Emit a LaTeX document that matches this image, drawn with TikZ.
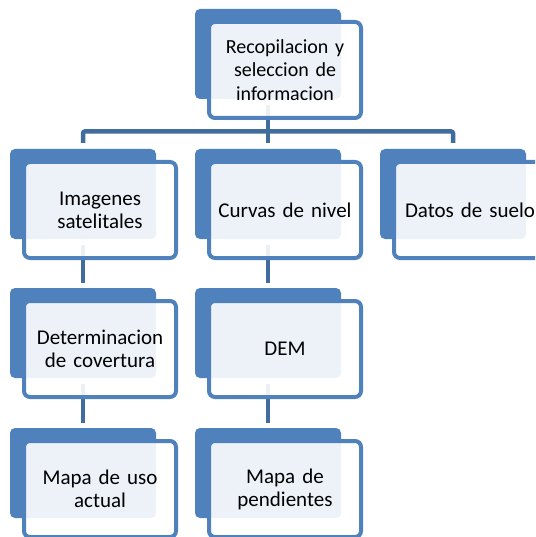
\documentclass[tikz,border=0pt]{standalone}
\usepackage{fontspec}
\setmainfont{Carlito}
\usetikzlibrary{calc}
\definecolor{boxblue}{RGB}{79,129,189}
\definecolor{linkblue}{RGB}{64,108,158}

\begin{document}
\begin{tikzpicture}[x=1pt, y=-1pt,
  back/.style={fill=boxblue, rounded corners=5pt, minimum width=146pt, minimum height=90pt, inner sep=0pt},
  front/.style={draw=boxblue, line width=4pt, fill=white, fill opacity=0.9, text opacity=1, rounded corners=6pt, minimum width=152pt, minimum height=96pt, inner sep=0pt, text width=150pt, align=center, font=\fontsize{21}{23}\selectfont},
  link/.style={draw=linkblue, line width=4.5pt}]
\path[use as bounding box] (0,0) rectangle (535,537);
\clip (0,0) rectangle (535,537);
\node[back] (recb) at (268,54) {};
\node[back] (imgb) at (83,194) {};
\node[back] (curb) at (268,194) {};
\node[back] (datb) at (453,194) {};
\node[back] (detb) at (83,333) {};
\node[back] (demb) at (268,333) {};
\node[back] (mapb) at (83,473) {};
\node[back] (penb) at (268,473) {};
\coordinate (bar) at ($(recb.south)!0.65!(recb.south |- curb.north)$);
\draw[link, shorten <=6pt] (recb.south) -- (bar);
\draw[link, rounded corners=2pt, shorten <=6pt, shorten >=6pt] (imgb.north) -- (bar -| imgb.north) -- (bar -| datb.north) -- (datb.north);
\draw[link, shorten >=6pt] (bar) -- (curb.north);
\draw[link, shorten <=6pt, shorten >=5pt] (imgb.south) -- (detb.north);
\draw[link, shorten <=6pt, shorten >=5pt] (detb.south) -- (mapb.north);
\draw[link, shorten <=6pt, shorten >=5pt] (curb.south) -- (demb.north);
\draw[link, shorten <=6pt, shorten >=5pt] (demb.south) -- (penb.north);
\node[front, font=\fontsize{20}{23.5}\selectfont] (rec) at ($(recb)+(17,16)$) {Recopilacion y\\seleccion de\\informacion};
\node[front] (img) at ($(imgb)+(17,16)$) {Imagenes\\satelitales};
\node[front] (cur) at ($(curb)+(17,16)$) {Curvas de nivel};
\node[front] (dat) at ($(datb)+(17,16)$) {Datos de suelo};
\node[front] (det) at ($(detb)+(17,16)$) {Determinacion\\de covertura};
\node[front] (dem) at ($(demb)+(17,16)$) {DEM};
\node[front] (map) at ($(mapb)+(17,16)$) {Mapa de uso\\actual};
\node[front] (pen) at ($(penb)+(17,16)$) {Mapa de\\pendientes};
\end{tikzpicture}
\end{document}
